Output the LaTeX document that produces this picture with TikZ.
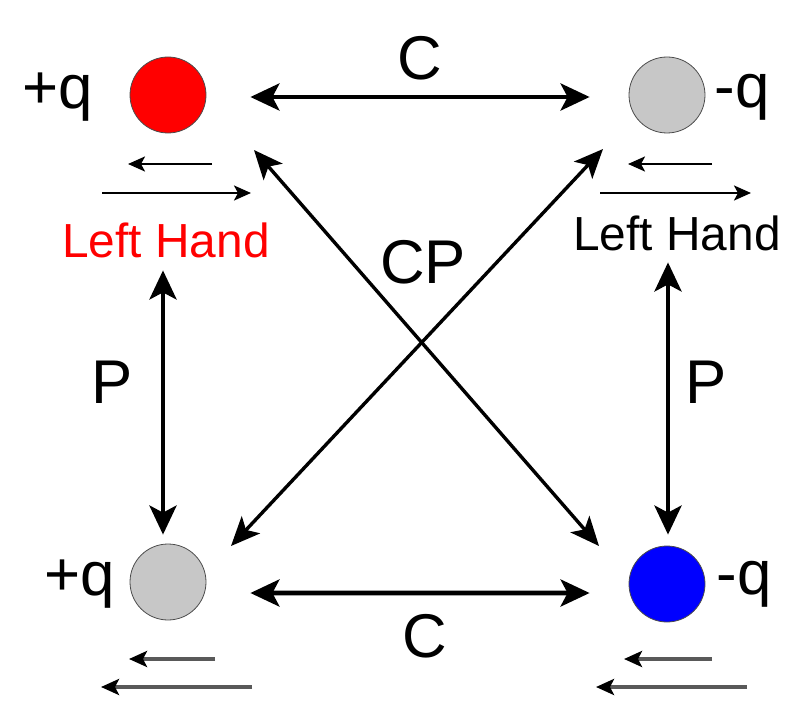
\documentclass[tikz,border=0pt]{standalone}
\usepackage{fontspec}
\setmainfont{Liberation Sans}
\usetikzlibrary{arrows.meta}
\begin{document}
\begin{tikzpicture}[x=1bp,y=-1bp,
  charge/.style={circle,draw=black!70,line width=0.8bp,minimum size=76bp,inner sep=0pt},
  big/.style={line width=4.6bp,{Stealth[length=29bp,width=27bp,inset=7bp]}-{Stealth[length=29bp,width=27bp,inset=7bp]}},
  diag/.style={line width=3.4bp,{Stealth[length=29bp,width=25bp,inset=7bp]}-{Stealth[length=29bp,width=25bp,inset=7bp]}},
  thin/.style={line width=2.4bp,-{Stealth[length=17bp,width=15bp,inset=4bp]}},
  gthin/.style={line width=3.4bp,draw=black!65,-{Stealth[length=18bp,width=16bp,inset=4bp,color=black,fill=black]}},
  lbl/.style={font=\fontsize{62}{64}\selectfont,inner sep=0pt},
  hand/.style={font=\fontsize{48}{52}\selectfont,inner sep=0pt}]
\useasboundingbox (0,0) rectangle (810,702);
\node[charge,fill=red] (r) at (168,95) {};
\node[charge,fill=black!22] (gt) at (667,95) {};
\node[charge,fill=black!22] (gb) at (168,582) {};
\node[charge,fill=blue] (b) at (667,584) {};
\node[lbl] (lq1) at (58,97) {+q};
\node[lbl] (lq2) at (742,97) {-q};
\node[lbl] (lq3) at (80,584) {+q};
\node[lbl] (lq4) at (744,584) {-q};
\node[lbl] (c1) at (420,58) {C};
\node[lbl] (c2) at (425,636) {C};
\node[lbl] (p1) at (112,382) {P};
\node[lbl] (p2) at (706,382) {P};
\node[lbl] (cp) at (423,262) {CP};
\node[hand,text=red] (lh1) at (166,240) {Left Hand};
\node[hand] (lh2) at (677,233) {Left Hand};
% main connectors
\draw[big] ([xshift=44bp,yshift=-2bp]r.east) -- ([xshift=-39bp,yshift=-2bp]gt.west);
\draw[big] ([xshift=44bp,yshift=-11bp]gb.east) -- ([xshift=-39bp,yshift=-9bp]b.west);
\draw[big] ([xshift=-5bp,yshift=-137bp]r.south) -- ([xshift=-5bp,yshift=9bp]gb.north);
\draw[big] ([xshift=1bp,yshift=-129bp]gt.south) -- ([xshift=1bp,yshift=11bp]b.north);
\coordinate (d1) at (254,150);
\coordinate (d2) at (599,546);
\coordinate (d3) at (603,149);
\coordinate (d4) at (231,546);
\draw[diag] (d1) -- (d2);
\draw[diag] (d3) -- (d4);
% small arrows
\coordinate (s1a) at (212,164); \coordinate (s1b) at (128,164);
\coordinate (s2a) at (102,193); \coordinate (s2b) at (251,193);
\coordinate (s3a) at (712,164); \coordinate (s3b) at (628,164);
\coordinate (s4a) at (600,193); \coordinate (s4b) at (751,193);
\draw[thin] (s1a) -- (s1b);
\draw[thin] (s2a) -- (s2b);
\draw[thin] (s3a) -- (s3b);
\draw[thin] (s4a) -- (s4b);
\coordinate (t1a) at (215,659); \coordinate (t1b) at (129,659);
\coordinate (t2a) at (252,687); \coordinate (t2b) at (101,687);
\coordinate (t3a) at (712,659); \coordinate (t3b) at (624,659);
\coordinate (t4a) at (747,687); \coordinate (t4b) at (596,687);
\draw[gthin] (t1a) -- (t1b);
\draw[gthin] (t2a) -- (t2b);
\draw[gthin] (t3a) -- (t3b);
\draw[gthin] (t4a) -- (t4b);
\end{tikzpicture}
\end{document}
